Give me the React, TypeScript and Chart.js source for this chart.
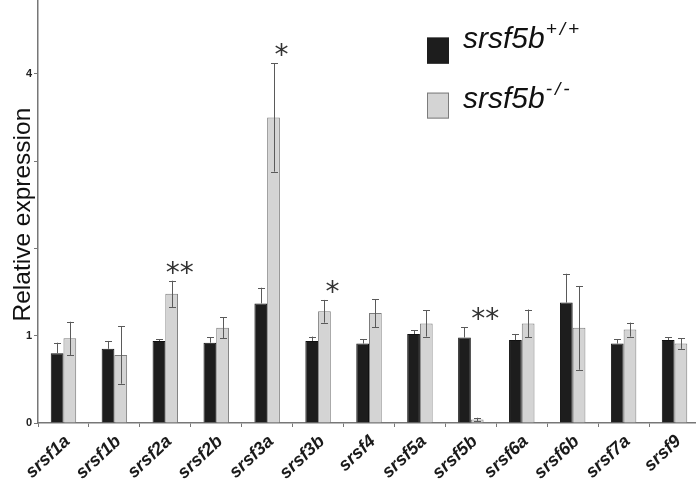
import React, { useEffect, useRef } from "react";
import { Chart, registerables } from "chart.js";

Chart.register(...registerables);

const categories = ["srsf1a", "srsf1b", "srsf2a", "srsf2b", "srsf3a", "srsf3b", "srsf4", "srsf5a", "srsf5b", "srsf6a", "srsf6b", "srsf7a", "srsf9"];
const wildType = [0.80, 0.85, 0.94, 0.92, 1.37, 0.94, 0.91, 1.02, 0.98, 0.95, 1.38, 0.91, 0.95];
const wildTypeErr = [0.12, 0.09, 0.02, 0.06, 0.18, 0.05, 0.05, 0.04, 0.12, 0.07, 0.33, 0.05, 0.03];
const knockout = [0.97, 0.78, 1.48, 1.09, 3.50, 1.28, 1.26, 1.14, 0.04, 1.14, 1.09, 1.07, 0.91];
const knockoutErr = [0.19, 0.33, 0.15, 0.12, 0.62, 0.13, 0.16, 0.15, 0.02, 0.16, 0.48, 0.08, 0.06];
const significance = ["", "", "**", "", "*", "*", "", "", "**", "", "", "", ""];
const yTickLabels = [0, 1, 4];
const yMax = 4.84;

const BLACK = "#1d1d1d";
const GRAY = "#d4d4d4";
const GRAY_BORDER = "#7c7c7c";
const ERR_COLOR = "#5a5a5a";

const decorPlugin = {
  id: "decor",
  afterDatasetsDraw(chart: any) {
    const ctx = chart.ctx;
    const y = chart.scales.y;
    const errs = [wildTypeErr, knockoutErr];
    const vals = [wildType, knockout];
    ctx.save();
    ctx.strokeStyle = ERR_COLOR;
    ctx.lineWidth = 1;
    for (let d = 0; d < 2; d++) {
      const meta = chart.getDatasetMeta(d);
      meta.data.forEach((bar: any, i: number) => {
        const top = y.getPixelForValue(vals[d][i] + errs[d][i]);
        const bot = d === 0 ? bar.y : y.getPixelForValue(vals[d][i] - errs[d][i]);
        const x = Math.round(bar.x) + 0.5;
        ctx.beginPath();
        ctx.moveTo(x, top);
        ctx.lineTo(x, bot);
        ctx.moveTo(x - 3.5, Math.round(top) + 0.5);
        ctx.lineTo(x + 3.5, Math.round(top) + 0.5);
        if (d === 1) {
          ctx.moveTo(x - 3.5, Math.round(bot) + 0.5);
          ctx.lineTo(x + 3.5, Math.round(bot) + 0.5);
        }
        ctx.stroke();
      });
    }
    // significance marks
    const metaKo = chart.getDatasetMeta(1);
    ctx.fillStyle = "#333";
    ctx.font = "28px 'DejaVu Sans'";
    ctx.textAlign = "center";
    ctx.textBaseline = "alphabetic";
    significance.forEach((s, i) => {
      if (!s) return;
      const topVal = Math.max(wildType[i] + wildTypeErr[i], knockout[i] + knockoutErr[i]);
      const py = y.getPixelForValue(topVal) + 1;
      ctx.fillText(s, metaKo.data[i].x + 8, py);
    });
    ctx.restore();
  },
  afterDraw(chart: any) {
    const ctx = chart.ctx;
    const area = chart.chartArea;
    const top0 = area.top;
    ctx.save();
    // y-axis title
    ctx.translate(23, top0 + 214);
    ctx.rotate(-Math.PI / 2);
    ctx.fillStyle = "#111";
    ctx.font = "24.5px 'Liberation Sans'";
    ctx.textAlign = "center";
    ctx.textBaseline = "middle";
    ctx.fillText("Relative expression", 0, 0);
    ctx.restore();

    // legend
    ctx.save();
    const entries = [
      { fill: BLACK, border: BLACK, sup: "+/+", top: 37, base: 47 },
      { fill: GRAY, border: GRAY_BORDER, sup: "-/-", top: 92, base: 107 },
    ];
    entries.forEach((e) => {
      ctx.fillStyle = e.fill;
      ctx.fillRect(427, top0 + e.top, 22, 26);
      ctx.strokeStyle = e.border;
      ctx.lineWidth = 1;
      ctx.strokeRect(427.5, top0 + e.top + 0.5, 21, 25);
      ctx.fillStyle = "#111";
      ctx.font = "italic 30px 'Liberation Sans'";
      ctx.textAlign = "left";
      ctx.textBaseline = "alphabetic";
      ctx.fillText("srsf5b", 463, top0 + e.base);
      const w = ctx.measureText("srsf5b").width;
      ctx.font = "italic 19px 'Liberation Sans'";
      (ctx as any).letterSpacing = "3px";
      ctx.fillText(e.sup, 463 + w + 1, top0 + e.base - 13);
      (ctx as any).letterSpacing = "0px";
    });
    ctx.restore();
  },
};

export default function App() {
  const ref = useRef<HTMLCanvasElement>(null);
  useEffect(() => {
    if (!ref.current) return;
    const chart = new Chart(ref.current, {
      type: "bar",
      data: {
        labels: categories,
        datasets: [
          {
            label: "srsf5b+/+",
            data: wildType,
            backgroundColor: BLACK,
            borderColor: "#111",
            borderWidth: 1,
            categoryPercentage: 0.5,
            barPercentage: 1.0,
          },
          {
            label: "srsf5b-/-",
            data: knockout,
            backgroundColor: GRAY,
            borderColor: GRAY_BORDER,
            borderWidth: 1,
            categoryPercentage: 0.5,
            barPercentage: 1.0,
          },
        ],
      },
      options: {
        responsive: false,
        animation: false,
        layout: { padding: 0 },
        plugins: { legend: { display: false }, tooltip: { enabled: false } },
        scales: {
          x: {
            grid: { drawOnChartArea: false, drawTicks: true, tickLength: 4, color: "#777" },
            border: { color: "#777", width: 1.5 },
            ticks: {
              autoSkip: false,
              minRotation: 43,
              maxRotation: 43,
              color: "#1a1a1a",
              font: { family: "'Liberation Sans'", size: 18, style: "italic", weight: "bold" },
              padding: 4,
              labelOffset: 4,
            },
            afterFit: (s: any) => {
              s.height = 63;
            },
          },
          y: {
            min: 0,
            max: yMax,
            grid: { drawOnChartArea: false, drawTicks: true, tickLength: 4, color: "#777" },
            border: { color: "#777", width: 1.5 },
            ticks: {
              stepSize: 1,
              color: "#222",
              font: { family: "'Liberation Sans'", size: 11, weight: "bold" },
              padding: 2,
              callback: (v: any) => (yTickLabels.includes(Number(v)) ? String(v) : ""),
            },
            afterBuildTicks: (s: any) => {
              s.ticks = s.ticks.filter((t: any) => Number.isInteger(t.value));
            },
            afterFit: (s: any) => {
              s.width = 38;
            },
          },
        },
      },
      plugins: [decorPlugin],
    });
    return () => chart.destroy();
  }, []);
  return (
    <div style={{ position: "absolute", left: 0, top: 0, width: 696, height: 486, overflow: "hidden", background: "#fff" }}>
      <canvas
        ref={ref}
        width={700}
        height={494}
        style={{ position: "absolute", left: 0, top: -8, width: 700, height: 494 }}
      />
    </div>
  );
}
